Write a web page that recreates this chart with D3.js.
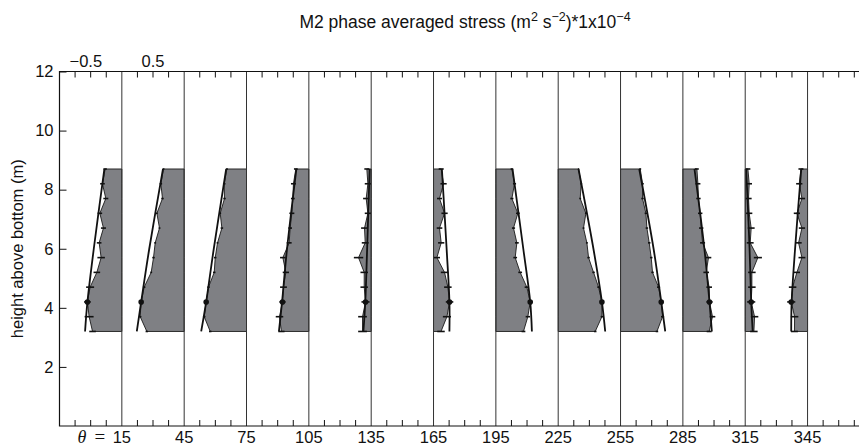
<!DOCTYPE html>
<html>
<head>
<meta charset="utf-8">
<script src="https://cdn.jsdelivr.net/npm/d3@7"></script>
<style>
  body { margin: 0; background: #fff; }
  svg { display: block; }
  text { font-family: "Liberation Sans", Arial, Helvetica, sans-serif; fill: #111; }
</style>
</head>
<body>
<svg id="chart" width="859" height="447"></svg>
<script>
// Phase angles (degrees) of the twelve profiles
const angles = [15, 45, 75, 105, 135, 165, 195, 225, 255, 285, 315, 345];
// Measurement heights above the bed (m), bottom to top
const heights = [3.2, 3.7, 4.2, 4.7, 5.2, 5.7, 6.2, 6.7, 7.2, 7.7, 8.2, 8.7];

// Phase-averaged stress (x1e-4 m^2 s^-2), bottom to top, one array per phase
const stress15  = [-0.47, -0.525, -0.552, -0.509, -0.401, -0.332, -0.364, -0.295, -0.353, -0.257, -0.311, -0.268];
const stress45  = [-0.599, -0.706, -0.690, -0.642, -0.529, -0.492, -0.465, -0.396, -0.438, -0.348, -0.374, -0.332];
const stress75  = [-0.582, -0.679, -0.647, -0.610, -0.518, -0.502, -0.465, -0.395, -0.422, -0.353, -0.358, -0.315];
const stress105 = [-0.44, -0.471, -0.423, -0.407, -0.369, -0.417, -0.316, -0.300, -0.273, -0.257, -0.247, -0.209];
const stress135 = [-0.139, -0.139, -0.091, -0.112, -0.112, -0.203, -0.096, -0.107, -0.053, -0.080, -0.053, -0.070];
const stress165 = [0.12, 0.215, 0.257, 0.230, 0.177, 0.054, 0.123, 0.096, 0.177, 0.096, 0.161, 0.123];
const stress195 = [0.443, 0.513, 0.551, 0.497, 0.390, 0.310, 0.337, 0.283, 0.353, 0.257, 0.299, 0.257];
const stress225 = [0.594, 0.701, 0.701, 0.647, 0.567, 0.487, 0.460, 0.406, 0.444, 0.353, 0.369, 0.326];
const stress255 = [0.584, 0.674, 0.653, 0.610, 0.513, 0.492, 0.460, 0.423, 0.407, 0.353, 0.353, 0.316];
const stress285 = [0.422, 0.475, 0.427, 0.422, 0.374, 0.411, 0.316, 0.294, 0.278, 0.250, 0.241, 0.225];
const stress315 = [0.139, 0.150, 0.096, 0.107, 0.107, 0.203, 0.080, 0.096, 0.064, 0.053, 0.064, 0.043];
const stress345 = [-0.21, -0.208, -0.262, -0.240, -0.171, -0.090, -0.144, -0.090, -0.171, -0.090, -0.133, -0.106];

// Half-widths of the error bars, bottom to top
const err15  = [0.053, 0.072, 0.053, 0.064, 0.053, 0.06, 0.037, 0.04, 0.037, 0.04, 0.037, 0.027];
const err45  = [0.02, 0.02, 0.02, 0.02, 0.015, 0.02, 0.015, 0.015, 0.015, 0.02, 0.02, 0.015];
const err75  = [0.02, 0.02, 0.025, 0.02, 0.02, 0.02, 0.015, 0.02, 0.015, 0.02, 0.02, 0.015];
const err105 = [0.05, 0.06, 0.05, 0.055, 0.05, 0.045, 0.04, 0.03, 0.04, 0.03, 0.04, 0.03];
const err135 = [0.07, 0.07, 0.065, 0.06, 0.06, 0.075, 0.055, 0.055, 0.05, 0.05, 0.05, 0.04];
const err165 = [0.06, 0.065, 0.06, 0.06, 0.06, 0.05, 0.05, 0.045, 0.05, 0.04, 0.05, 0.04];
const err195 = [0.03, 0.035, 0.035, 0.035, 0.03, 0.03, 0.03, 0.025, 0.03, 0.025, 0.025, 0.02];
const err225 = [0.02, 0.02, 0.02, 0.02, 0.02, 0.02, 0.015, 0.015, 0.015, 0.015, 0.015, 0.01];
const err255 = [0.02, 0.025, 0.025, 0.025, 0.02, 0.02, 0.02, 0.02, 0.02, 0.02, 0.02, 0.015];
const err285 = [0.04, 0.045, 0.05, 0.045, 0.045, 0.045, 0.04, 0.035, 0.035, 0.035, 0.04, 0.03];
const err315 = [0.06, 0.06, 0.065, 0.06, 0.06, 0.065, 0.055, 0.055, 0.05, 0.05, 0.045, 0.04];
const err345 = [0.055, 0.06, 0.065, 0.06, 0.05, 0.055, 0.05, 0.05, 0.05, 0.05, 0.05, 0.04];

// Fitted model profile, given at a few heights (m)
const fitHeights = [3.2, 4.2, 6.0, 8.7];
const fit15  = [-0.59, -0.552, -0.45, -0.28];
const fit45  = [-0.76, -0.69, -0.56, -0.34];
const fit75  = [-0.727, -0.647, -0.525, -0.326];
const fit105 = [-0.48, -0.43, -0.35, -0.2];
const fit135 = [-0.125, -0.095, -0.065, -0.025];
const fit165 = [0.255, 0.255, 0.21, 0.134];
const fit195 = [0.578, 0.551, 0.44, 0.267];
const fit225 = [0.754, 0.701, 0.565, 0.326];
const fit255 = [0.717, 0.653, 0.53, 0.30];
const fit285 = [0.465, 0.427, 0.345, 0.186];
const fit315 = [0.12, 0.096, 0.07, 0.016];
const fit345 = [-0.262, -0.255, -0.2, -0.101];

// Axis tick values
const yTicks = [2, 4, 6, 8, 10, 12];
const topTickLabels = [-0.5, 0.5];

const stressSets = [stress15, stress45, stress75, stress105, stress135, stress165,
                    stress195, stress225, stress255, stress285, stress315, stress345];
const errSets = [err15, err45, err75, err105, err135, err165,
                 err195, err225, err255, err285, err315, err345];
const fitSets = [fit15, fit45, fit75, fit105, fit135, fit165,
                 fit195, fit225, fit255, fit285, fit315, fit345];

// One stress unit spans the distance between neighbouring phases
const degPerUnit = 30;
const dotHeight = 4.2;
const fontSize = 16.5;

const svg = d3.select("#chart");
const x = d3.scaleLinear().domain([-15, 370]).range([59.5, 859.5]);
const y = d3.scaleLinear().domain([0, 12]).range([426, 71.5]);
const xLeft = x(-15), xRight = 859, yTop = y(12), yBottom = y(0);

const plot = svg.append("g");

angles.forEach((theta, i) => {
  const s = stressSets[i], e = errSets[i], f = fitSets[i];
  const pts = heights.map((h, k) => ({ h, v: s[k], e: e[k] }));
  const px = v => x(theta + degPerUnit * v);

  // shaded profile between zero line and the measured stress
  const area = d3.area()
    .y(d => y(d.h))
    .x0(() => x(theta))
    .x1(d => px(d.v));
  plot.append("path")
    .datum(pts)
    .attr("d", area)
    .attr("fill", "#7f8084")
    .attr("stroke", "#1a1a1a")
    .attr("stroke-width", 0.9)
    .attr("stroke-linejoin", "miter");

  // error bars
  plot.append("g").selectAll("line")
    .data(pts)
    .join("line")
    .attr("x1", d => px(d.v - d.e))
    .attr("x2", d => px(d.v + d.e))
    .attr("y1", d => y(d.h))
    .attr("y2", d => y(d.h))
    .attr("stroke", "#111")
    .attr("stroke-width", 1.6);

  // fitted profile
  const fitPts = fitHeights.map((h, k) => ({ h, v: f[k] }));
  plot.append("path")
    .datum(fitPts)
    .attr("d", d3.line().y(d => y(d.h)).x(d => px(d.v)).curve(d3.curveCatmullRom))
    .attr("fill", "none")
    .attr("stroke", "#111")
    .attr("stroke-width", 1.8);

  // marker at the reference height
  const k = heights.indexOf(dotHeight);
  plot.append("circle")
    .attr("cx", px(s[k]))
    .attr("cy", y(dotHeight))
    .attr("r", 2.8)
    .attr("fill", "#111");
});

// zero line of each profile
svg.append("g").selectAll("line")
  .data(angles)
  .join("line")
  .attr("x1", d => x(d)).attr("x2", d => x(d))
  .attr("y1", yTop).attr("y2", yBottom)
  .attr("stroke", "#333")
  .attr("stroke-width", 1);

// minor ticks every 7.5 degrees on top and bottom
const minor = d3.range(-7.5, 370, 7.5).filter(t => !angles.includes(t));
const tickG = svg.append("g").attr("stroke", "#111").attr("stroke-width", 1);
tickG.selectAll("line.t")
  .data(minor).join("line").attr("class", "t")
  .attr("x1", d => x(d)).attr("x2", d => x(d))
  .attr("y1", yTop).attr("y2", yTop + 6);
tickG.selectAll("line.b")
  .data(minor).join("line").attr("class", "b")
  .attr("x1", d => x(d)).attr("x2", d => x(d))
  .attr("y1", yBottom).attr("y2", yBottom - 6);

// frame: left, top and bottom axis lines
svg.append("path")
  .attr("d", `M${xRight},${yTop}H${xLeft}V${yBottom}H${xRight}`)
  .attr("fill", "none")
  .attr("stroke", "#111")
  .attr("stroke-width", 1.2);

// left axis
const yAxis = d3.axisLeft(y).tickValues(yTicks).tickSize(-7).tickPadding(6);
const ya = svg.append("g").attr("transform", `translate(${xLeft},0)`).call(yAxis);
ya.select(".domain").remove();
ya.selectAll("line").attr("stroke", "#111");
ya.selectAll("text").attr("font-size", fontSize).attr("fill", "#111")
  .style("font-family", '"Liberation Sans", Arial, sans-serif');

// bottom phase labels
const labelY = 443;
const bl = svg.append("g");
bl.selectAll("text")
  .data(angles)
  .join("text")
  .attr("x", d => x(d))
  .attr("y", labelY)
  .attr("text-anchor", "middle")
  .attr("font-size", fontSize)
  .text(d => d);
const serif = '"Liberation Serif", "Times New Roman", serif';
bl.append("text")
  .attr("x", x(angles[0]) - 40)
  .attr("y", labelY)
  .attr("text-anchor", "middle")
  .style("font-family", serif)
  .style("font-style", "italic")
  .attr("font-size", 18)
  .text("θ");
bl.append("text")
  .attr("x", x(angles[0]) - 22)
  .attr("y", labelY)
  .attr("text-anchor", "middle")
  .style("font-family", serif)
  .attr("font-size", 19)
  .text("=");

// stress scale labels above the first profile
topTickLabels.forEach(v => {
  const t = svg.append("text")
    .attr("y", 66.5)
    .attr("font-size", fontSize)
    .attr("text-anchor", "end");
  const core = Math.abs(v).toFixed(1);
  t.text((v < 0 ? "\u2212" : "") + core);
  // centre the digits (not the sign) on the tick
  const probe = svg.append("text").attr("font-size", fontSize).text(core);
  const w = probe.node().getComputedTextLength();
  probe.remove();
  t.attr("x", x(angles[0] + degPerUnit * v) + w / 2);
});

// axis title
svg.append("text")
  .attr("transform", `translate(23,${(yTop + yBottom) / 2}) rotate(-90)`)
  .attr("text-anchor", "middle")
  .attr("font-size", fontSize)
  .text("height above bottom (m)");

// chart title with superscripts
const title = svg.append("text")
  .attr("x", 465)
  .attr("y", 28)
  .attr("text-anchor", "middle")
  .attr("font-size", 17.5);
title.append("tspan").text("M2 phase averaged stress (m");
title.append("tspan").attr("dy", -7).attr("font-size", 12.5).text("2");
title.append("tspan").attr("dy", 7).text(" s");
title.append("tspan").attr("dy", -7).attr("font-size", 12.5).text("\u22122");
title.append("tspan").attr("dy", 7).text(")*1x10");
title.append("tspan").attr("dy", -7).attr("font-size", 12.5).text("\u22124");
</script>
</body>
</html>
